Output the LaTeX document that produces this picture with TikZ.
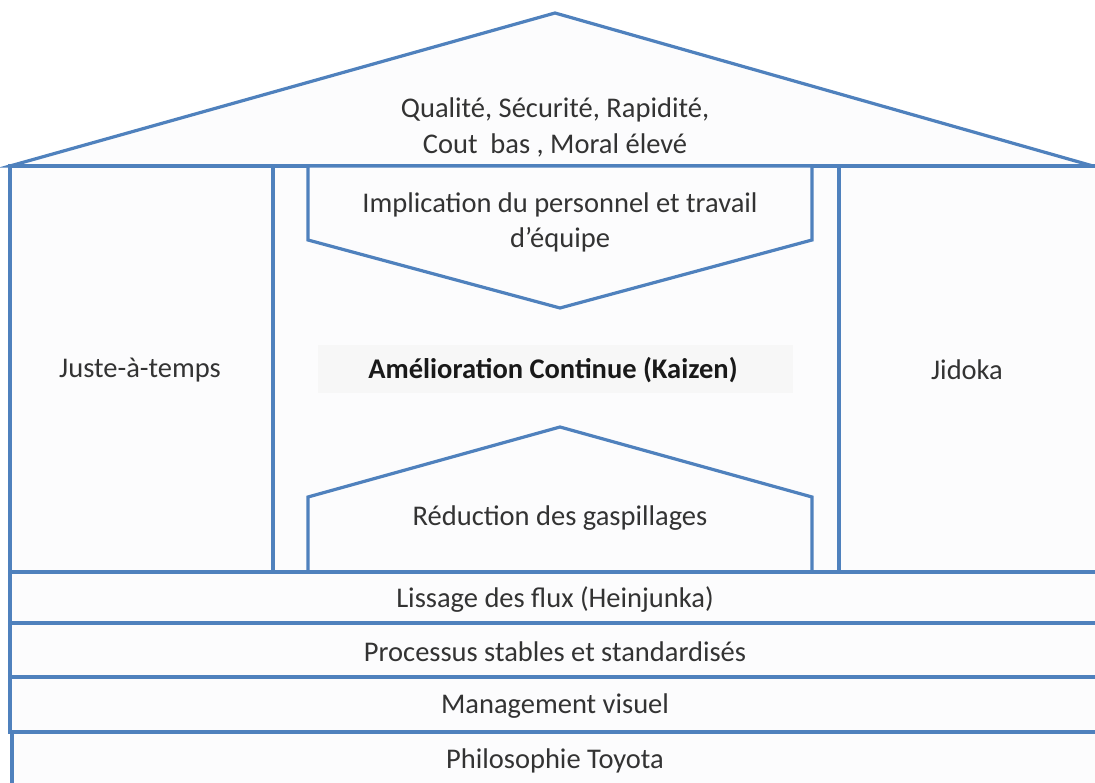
\documentclass[tikz,border=0pt]{standalone}
\usepackage{fontspec}
\setmainfont{Carlito}
\definecolor{edge}{HTML}{4F81BD}
\definecolor{paper}{HTML}{FCFCFD}
\definecolor{kz}{HTML}{F7F7F7}
\begin{document}
\begin{tikzpicture}[x=1pt,y=-1pt,
  part/.style={draw=edge,line width=3.2pt,fill=paper,line join=miter},
  lbl/.style={font=\fontsize{28.5}{34}\selectfont,text=black!80,align=center,inner sep=0pt}]
\useasboundingbox (0,0) rectangle (1095,783);
\fill[white] (0,0) rectangle (1095,783);
% roof
\draw[part] (10,166) -- (555,13) -- (1093,166) -- cycle;
% pillars area
\draw[part] (10,166) rectangle (273,572);
\draw[part] (273,166) rectangle (839,572);
\draw[part] (839,166) rectangle (1100,572);
% chevron
\draw[part] (308,166) -- (812,166) -- (812,240) -- (560,308) -- (308,240) -- cycle;
% house
\draw[part] (308,572) -- (308,497) -- (560,427) -- (812,497) -- (812,572);
% bars
\draw[part] (10,572) rectangle (1100,623);
\draw[part] (10,623) rectangle (1100,677);
\draw[part] (10,677) rectangle (1100,732);
\draw[part] (12,732) rectangle (1100,800);
% kaizen background
\fill[kz] (318,345) rectangle (793,393);
% labels
\node[lbl] (goal1) at (555,110) {Qualité, Sécurité, Rapidité,};
\node[lbl] (goal2) at (555,145) {Cout\ \ bas , Moral élevé};
\node[lbl] (impl1) at (560,205) {Implication du personnel et travail};
\node[lbl] (impl2) at (560,240) {d’équipe};
\node[lbl] (jat) at (140,370) {Juste-à-temps};
\node[lbl] (jid) at (967,370) {Jidoka};
\node[lbl,font=\fontsize{28.5}{34}\selectfont\bfseries,text=black!90] (kaizen) at (553,370) {Amélioration Continue (Kaizen)};
\node[lbl] (red) at (560,518) {Réduction des gaspillages};
\node[lbl] (b1) at (555,600) {Lissage des flux (Heinjunka)};
\node[lbl] (b2) at (555,652) {Processus stables et standardisés};
\node[lbl] (b3) at (555,706) {Management visuel};
\node[lbl] (b4) at (555,761) {Philosophie Toyota};
\end{tikzpicture}
\end{document}
